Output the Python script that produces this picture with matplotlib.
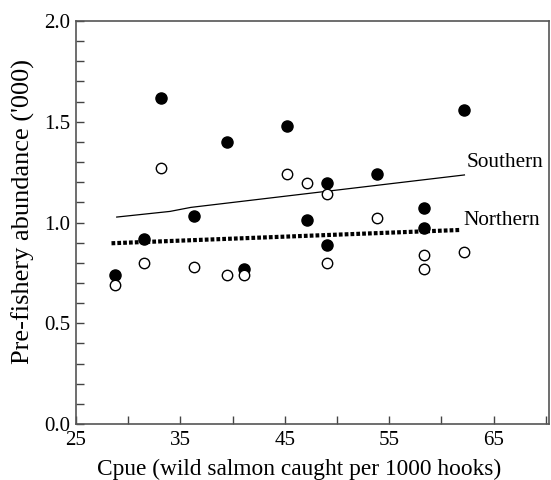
import matplotlib
matplotlib.use("Agg")
import matplotlib.pyplot as plt
from matplotlib.ticker import MultipleLocator

plt.rcParams['font.family'] = ['Liberation Serif', 'DejaVu Serif']

# Southern (filled)
south_x = [28.7, 31.5, 33.1, 36.3, 39.5, 41.1, 45.2, 47.1, 49.05, 49.05, 53.8, 58.3, 58.3, 62.2]
south_y = [0.74, 0.92, 1.62, 1.03, 1.40, 0.77, 1.48, 1.01, 1.195, 0.89, 1.24, 1.07, 0.975, 1.56]
# Northern (open)
north_x = [28.7, 31.5, 33.1, 36.3, 39.5, 41.1, 45.2, 47.1, 49.05, 49.05, 53.8, 58.3, 58.3, 62.2]
north_y = [0.69, 0.80, 1.27, 0.78, 0.74, 0.74, 1.24, 1.195, 1.14, 0.80, 1.02, 0.84, 0.77, 0.855]

south_line_x = [28.9, 34.0, 36.0, 62.2]
south_line_y = [1.027, 1.055, 1.075, 1.236]
north_line_x = [28.4, 61.8]
north_line_y = [0.897, 0.963]

fig = plt.figure(figsize=(5.51, 4.80), dpi=100)
ax = fig.add_axes([76/551, 1 - 424/480, (549-76)/551, (424-21)/480])

ax.plot(south_line_x, south_line_y, color='black', lw=0.9)
ax.plot(north_line_x, north_line_y, color='black', lw=3.0, linestyle=(0, (0.9, 0.5)))
ax.plot(south_x, south_y, 'o', color='black', ms=8, mec='black')
ax.plot(north_x, north_y, 'o', mfc='white', mec='black', ms=7.5, mew=1.0)

ax.text(62.4, 1.30, 'Southern', fontsize=15.3, va='center', ha='left')
ax.text(62.1, 1.01, 'Northern', fontsize=15.3, va='center', ha='left')

ax.set_xlim(25, 70.3)
ax.set_ylim(0, 2.0)
ax.set_xticks([25, 35, 45, 55, 65])
ax.xaxis.set_minor_locator(MultipleLocator(5))
ax.set_yticks([0.0, 0.5, 1.0, 1.5, 2.0])
ax.set_yticklabels(['0.0', '0.5', '1.0', '1.5', '2.0'])
ax.yaxis.set_minor_locator(MultipleLocator(0.1))
ax.tick_params(which='both', direction='in', length=6, width=1.0, color='#444444', labelsize=15, top=False, right=False)
ax.tick_params(axis='x', pad=5)
ax.tick_params(axis='y', pad=4)
for s in ax.spines.values():
    s.set_color('#555555')
    s.set_linewidth(1.2)

ax.set_xlabel('Cpue (wild salmon caught per 1000 hooks)', fontsize=16.8, va='baseline')
ax.xaxis.set_label_coords((299.5 - 76) / 473, (424 - 475) / 403)
ax.set_ylabel("Pre-fishery abundance ('000)", fontsize=19, va='center')
ax.yaxis.set_label_coords((23 - 76) / 473, (424 - 212) / 403)

fig.savefig('out.png', dpi=100)
